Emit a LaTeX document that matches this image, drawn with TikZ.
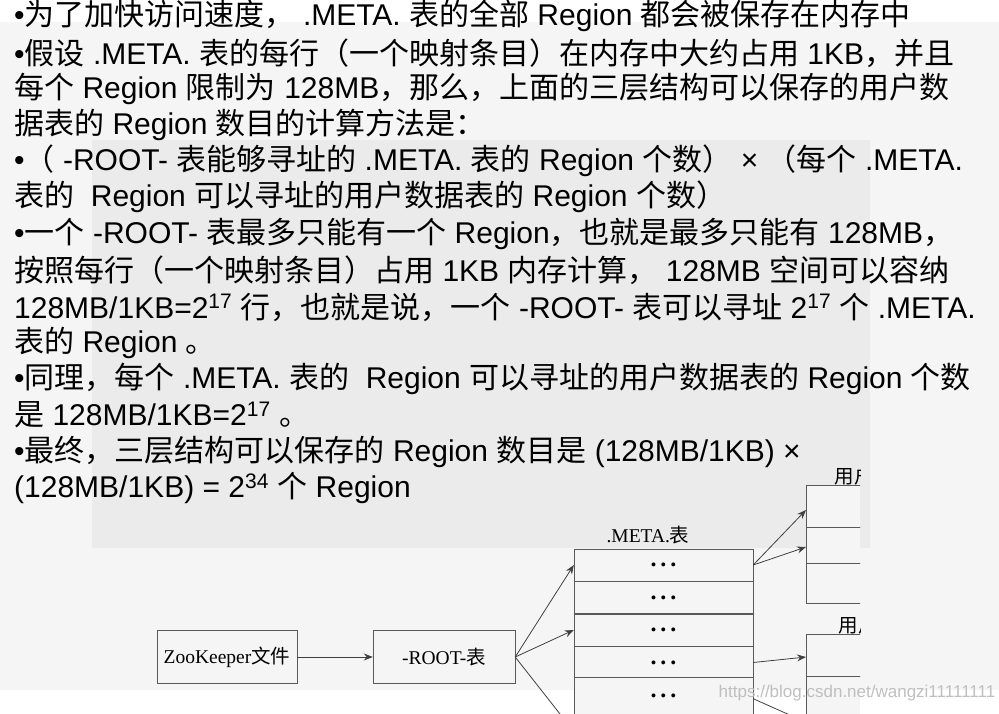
\documentclass[tikz,border=0pt]{standalone}
\usepackage{fontspec}
\setmainfont{Liberation Sans}
\newfontfamily\cjk{Noto Sans CJK SC}
\newfontfamily\serif{Liberation Serif}
\newcommand{\zh}[1]{{\cjk #1}}
\usetikzlibrary{arrows.meta}
\tikzstyle{slide}=[x=1pt, y=-1pt, font=\fontsize{30}{34}\selectfont]
\tikzstyle{line}=[anchor=west, inner sep=0pt]
\tikzstyle{box}=[draw=black!65, fill=black!4, minimum height=53pt, font=\serif\fontsize{19.5}{22}\selectfont]
\tikzstyle{row}=[draw=black!65, fill=black!4, minimum width=179pt, minimum height=32pt, inner sep=0pt, font=\serif\bfseries\fontsize{24}{24}\selectfont]
\tikzstyle{urow}=[draw=black!65, fill=black!4, anchor=north west, minimum width=80pt, inner sep=0pt]
\tikzstyle{lbl}=[font=\serif\fontsize{19.5}{22}\selectfont]
\tikzstyle{edge}=[draw=black!75, thick, -{Stealth[length=9pt,width=7pt]}]
\begin{document}
\begin{tikzpicture}[slide]
	\useasboundingbox (0,0) rectangle (999,714);
	\fill[black!4] (0,22) rectangle (999,690);
	\fill[black!8] (92,140) rectangle (870,548);
	%%
	\draw (14,16) node[line] (l1) {•\zh{为了加快访问速度，} .META. \zh{表的全部} Region \zh{都会被保存在内存中}};
	\draw (14,53) node[line] (l2) {•\zh{假设} .META. \zh{表的每行（一个映射条目）在内存中大约占用} 1KB\zh{，并且}};
	\draw (14,89) node[line] (l3) {\zh{每个} Region \zh{限制为} 128MB\zh{，那么，上面的三层结构可以保存的用户数}};
	\draw (14,125) node[line] (l4) {\zh{据表的} Region \zh{数目的计算方法是：}};
	\draw (14,161) node[line] (l5) {•\zh{（} -ROOT- \zh{表能够寻址的} .META. \zh{表的} Region \zh{个数）} × \zh{（每个} .META.};
	\draw (14,197) node[line] (l6) {\zh{表的} \ Region \zh{可以寻址的用户数据表的} Region \zh{个数）}};
	\draw (14,234) node[line] (l7) {•\zh{一个} -ROOT- \zh{表最多只能有一个} Region\zh{，也就是最多只能有} 128MB\zh{，}};
	\draw (14,270) node[line] (l8) {\zh{按照每行（一个映射条目）占用} 1KB \zh{内存计算，} 128MB \zh{空间可以容纳}};
	\draw (14,307) node[line] (l9) {128MB/1KB=2\textsuperscript{17} \zh{行，也就是说，一个} -ROOT- \zh{表可以寻址} 2\textsuperscript{17} \zh{个} .META.};
	\draw (14,343) node[line] (l10) {\zh{表的} Region \zh{。}};
	\draw (14,379) node[line] (l11) {•\zh{同理，每个} .META. \zh{表的} \ Region \zh{可以寻址的用户数据表的} Region \zh{个数}};
	\draw (14,415) node[line] (l12) {\zh{是} 128MB/1KB=2\textsuperscript{17} \zh{。}};
	\draw (14,452) node[line] (l13) {•\zh{最终，三层结构可以保存的} Region \zh{数目是} (128MB/1KB) ×};
	\draw (14,488) node[line] (l14) {(128MB/1KB) = 2\textsuperscript{34} \zh{个} Region};
	%%%%%%
	\draw (227,657) node[box, minimum width=140pt] (zk) {ZooKeeper\zh{文件}};
	\draw (444,657) node[box, minimum width=142pt] (root) {-ROOT-\zh{表}};
	\draw[edge] (zk) -- (root);
	%%
	\begin{scope}
	\clip (0,0) rectangle (860,714);
	\draw (648,535) node[lbl] (mlbl) {.META.\zh{表}};
	\foreach \i in {0,...,3}
		\draw (663.5,565+32.5*\i) node[row] (m\i) {\raisebox{-4pt}{.\,.\,.}};
	\draw (663.5,677) node[row, anchor=north, minimum height=50pt] (m4) {};
	\draw (663.5,696) node[font=\serif\bfseries\fontsize{24}{24}\selectfont] (d4) {.\,.\,.};
	%%
	\draw (806,485) node[urow, minimum height=42pt] (u1) {};
	\draw (806,527) node[urow, minimum height=36pt] (u2) {};
	\draw (806,563) node[urow, minimum height=40pt] (u3) {};
	\draw (864,476) node[lbl] (ulbl1) {\zh{用户表}};
	\draw (806,634) node[urow, minimum height=42pt] (u4) {};
	\draw (806,676) node[urow, minimum height=60pt] (u5) {};
	\draw (868,625) node[lbl] (ulbl2) {\zh{用户表}};
	%%
	\coordinate (rootdown) at (560,714);
	\coordinate (metadown) at (810,724);
	\draw[edge] (root.east) -- (m0.west);
	\draw[edge] (root.east) -- (m2.west);
	\draw[edge, -] (root.east) -- (rootdown);
	\draw[edge] (m0.east) -- (u1.west |- 0,510);
	\draw[edge] (m0.east) -- (u2.west |- 0,547);
	\draw[edge] (m3.east) -- (u4.west |- 0,657);
	\draw[edge, -] (m3.south east) ++(0,20) -- (metadown);
	\end{scope}
	%%
	\draw (857,693) node[font=\fontsize{17}{20}\selectfont, text=black!25] (wm) {https://blog.csdn.net/wangzi11111111};
\end{tikzpicture}
\end{document}
